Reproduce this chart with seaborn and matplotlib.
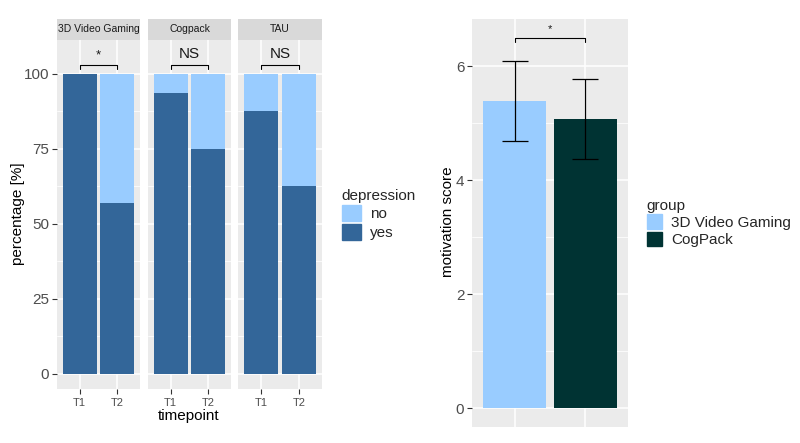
import matplotlib.pyplot as plt
import seaborn as sns
import pandas as pd
from matplotlib.patches import Patch
from matplotlib.ticker import MultipleLocator

# data
groups = ["3D Video Gaming", "Cogpack", "TAU"]
timepoints = ["T1", "T2"]
yes_pct = [100.0, 57.1, 93.75, 75.0, 87.5, 62.5]
no_pct = [0.0, 42.9, 6.25, 25.0, 12.5, 37.5]
sig_labels = ["*", "NS", "NS"]

motiv_groups = ["3D Video Gaming", "CogPack"]
motiv_mean = [5.39, 5.08]
motiv_err = [0.70, 0.70]
motiv_sig = "*"

LIGHT = "#99CCFF"
DARK = "#336699"
TEAL = "#003333"
PANEL = "#EBEBEB"
STRIP = "#D9D9D9"
TXT = "#1A1A1A"
TICK = "#4D4D4D"

sns.set_theme(style="darkgrid", rc={"axes.facecolor": PANEL, "grid.color": "white"})
plt.rcParams["font.family"] = ["Liberation Sans", "DejaVu Sans"]

df = pd.DataFrame({
    "group": [g for g in groups for _ in timepoints],
    "timepoint": timepoints * len(groups),
    "yes": yes_pct,
    "no": no_pct,
})
df["total"] = df["yes"] + df["no"]

W, H = 800, 443
fig = plt.figure(figsize=(W / 100, H / 100), dpi=100)
fig.patch.set_facecolor("white")


def px_axes(x0, y0, x1, y1):
    return fig.add_axes([x0 / W, 1 - y1 / H, (x1 - x0) / W, (y1 - y0) / H])


def style_panel(ax):
    for s in ax.spines.values():
        s.set_visible(False)
    ax.set_axisbelow(True)
    ax.grid(which="major", color="white", lw=1.1)
    ax.grid(which="minor", axis="y", color="white", lw=0.55)
    ax.set_xlabel("")
    ax.set_ylabel("")


# ---- left: faceted stacked bars ----
facet_x = [(57, 140), (148, 231), (238, 322)]
for i, g in enumerate(groups):
    x0, x1 = facet_x[i]
    ax = px_axes(x0, 40, x1, 389)
    sub = df[df["group"] == g]
    sns.barplot(data=sub, x="timepoint", y="total", order=timepoints, color=LIGHT,
                saturation=1, width=0.9, errorbar=None, ax=ax)
    sns.barplot(data=sub, x="timepoint", y="yes", order=timepoints, color=DARK,
                saturation=1, width=0.9, errorbar=None, ax=ax)
    for p in ax.patches:
        p.set_linewidth(0)
    ax.set_xlim(-0.6, 1.6)
    ax.set_ylim(-5, 111.3)
    ax.yaxis.set_major_locator(MultipleLocator(25))
    ax.yaxis.set_minor_locator(MultipleLocator(12.5))
    style_panel(ax)
    ax.tick_params(axis="x", length=3.5, width=0.8, color="#333333", pad=3,
                   labelsize=8, labelcolor=TICK, bottom=True)
    if i == 0:
        ax.tick_params(axis="y", length=3.5, width=0.8, color="#333333", pad=2,
                       labelsize=11, labelcolor=TICK, left=True)
    else:
        ax.tick_params(axis="y", left=False, labelleft=False)
    ax.tick_params(which="minor", length=0)
    # significance bracket
    ax.plot([0, 0, 1, 1], [101.6, 103, 103, 101.6], color="black", lw=0.8)
    ax.text(0.5, 104.2, sig_labels[i], ha="center", va="bottom",
            fontsize=11 if sig_labels[i] != "*" else 9.5, color=TXT)
    # strip
    sax = px_axes(x0, 19, x1, 40)
    sax.set_facecolor(STRIP)
    sax.set_xticks([])
    sax.set_yticks([])
    for s in sax.spines.values():
        s.set_visible(False)
    sax.text(0.5, 0.5, g, ha="center", va="center", fontsize=7.5, color=TXT,
             transform=sax.transAxes)

fig.text(18 / W, 1 - 214 / H, "percentage [%]", rotation=90, ha="center", va="center",
         fontsize=11, color="black")
fig.text(189 / W, 1 - 416 / H, "timepoint", ha="center", va="center",
         fontsize=11, color="black")

leg1 = fig.legend(handles=[Patch(color=LIGHT, label="no"), Patch(color=DARK, label="yes")],
                  title="depression", loc="upper left",
                  bbox_to_anchor=(337 / W, 1 - 184 / H), frameon=False,
                  fontsize=11, title_fontsize=11, handlelength=1.25, handleheight=1.2,
                  labelspacing=0.18, handletextpad=0.6, alignment="left",
                  borderaxespad=0, borderpad=0.3)

# ---- right: motivation bars ----
ax2 = px_axes(472, 19, 628, 427)
mdf = pd.DataFrame({"group": motiv_groups, "mean": motiv_mean, "err": motiv_err})
sns.barplot(data=mdf, x="group", y="mean", hue="group", order=motiv_groups,
            palette=[LIGHT, TEAL], saturation=1, width=0.9, errorbar=None,
            legend=False, ax=ax2)
for p in ax2.patches:
    p.set_linewidth(0)
ax2.errorbar(range(len(motiv_groups)), mdf["mean"], yerr=mdf["err"], fmt="none",
             ecolor="black", elinewidth=0.9, capsize=9.5, capthick=0.9)
ax2.set_xlim(-0.6, 1.6)
ax2.set_ylim(-0.325, 6.825)
ax2.yaxis.set_major_locator(MultipleLocator(2))
ax2.yaxis.set_minor_locator(MultipleLocator(1))
style_panel(ax2)
ax2.tick_params(axis="x", bottom=False, labelbottom=False)
ax2.tick_params(axis="y", length=3.5, width=0.8, color="#333333", pad=2,
                labelsize=11, labelcolor=TICK, left=True)
ax2.tick_params(which="minor", length=0)
ax2.plot([0, 0, 1, 1], [6.43, 6.5, 6.5, 6.43], color="black", lw=0.8)
ax2.text(0.5, 6.56, motiv_sig, ha="center", va="bottom", fontsize=8, color=TXT)

fig.text(448 / W, 1 - 222 / H, "motivation score", rotation=90, ha="center", va="center",
         fontsize=11, color="black")

leg2 = fig.legend(handles=[Patch(color=LIGHT, label="3D Video Gaming"),
                           Patch(color=TEAL, label="CogPack")],
                  title="group", loc="upper left",
                  bbox_to_anchor=(642 / W, 1 - 194 / H), frameon=False,
                  fontsize=11, title_fontsize=11, handlelength=1.0, handleheight=1.05,
                  labelspacing=0.12, handletextpad=0.6, alignment="left",
                  borderaxespad=0, borderpad=0.3)

fig.savefig("out.png", dpi=100, facecolor="white")
